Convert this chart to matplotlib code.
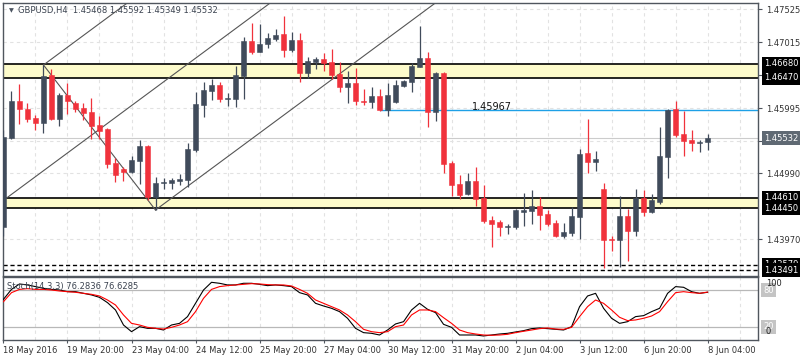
import matplotlib
matplotlib.use('Agg')
import matplotlib.pyplot as plt
from matplotlib.transforms import offset_copy

symbol = 'GBPUSD,H4'

# H4 candles, 18 May 12:00 .. 8 Jun 04:00
opens = [1.44155, 1.45540, 1.46108, 1.45979, 1.45845, 1.45772, 1.46514, 1.45829, 1.46200, 1.46077,
         1.45999, 1.45942, 1.45737, 1.45670, 1.45154, 1.45056, 1.45010, 1.45185, 1.45416, 1.44628,
         1.44835, 1.44835, 1.44875, 1.44886, 1.45350, 1.46046, 1.46267, 1.46355, 1.46143, 1.46143,
         1.46494, 1.47035, 1.46865, 1.46984, 1.47066, 1.47148, 1.46896, 1.47051, 1.46545, 1.46715,
         1.46757, 1.46715, 1.46525, 1.46328, 1.46391, 1.46112, 1.46097, 1.46185, 1.45968, 1.46097,
         1.46344, 1.46406, 1.46638, 1.46777, 1.45942, 1.46545, 1.45154, 1.44824, 1.44670, 1.44871,
         1.44603, 1.44268, 1.44232, 1.44155, 1.44155, 1.44396, 1.44412, 1.44484, 1.44361, 1.44217,
         1.44020, 1.44071, 1.44319, 1.45299, 1.45169, 1.44742, 1.43974, 1.43958, 1.44330, 1.44102,
         1.44603, 1.44396, 1.44551, 1.45246, 1.45979, 1.45597, 1.45505, 1.45453, 1.45468]
highs = [1.45659, 1.46262, 1.46375, 1.46081, 1.45887, 1.46664, 1.46598, 1.46236, 1.46391, 1.46108,
         1.46081, 1.46154, 1.45876, 1.45686, 1.45222, 1.45092, 1.45262, 1.45505, 1.45427, 1.44937,
         1.44913, 1.44922, 1.44979, 1.45463, 1.46251, 1.46406, 1.46443, 1.46406, 1.46227, 1.46653,
         1.47102, 1.47318, 1.47293, 1.47154, 1.47221, 1.47426, 1.47179, 1.47164, 1.46783, 1.46792,
         1.46854, 1.46911, 1.46715, 1.46571, 1.46622, 1.46293, 1.46319, 1.46293, 1.46381, 1.46432,
         1.46432, 1.46690, 1.47267, 1.46870, 1.46560, 1.46560, 1.45180, 1.44964, 1.44990, 1.45092,
         1.44809, 1.44330, 1.44268, 1.44201, 1.44438, 1.44690, 1.44732, 1.44619, 1.44422, 1.44268,
         1.44217, 1.44473, 1.45361, 1.45829, 1.45334, 1.44835, 1.44025, 1.44639, 1.44438, 1.44747,
         1.44732, 1.44665, 1.45710, 1.45979, 1.46112, 1.45953, 1.45659, 1.45505, 1.45592]
lows = [1.44020, 1.45515, 1.45747, 1.45783, 1.45659, 1.45618, 1.45814, 1.45721, 1.45907, 1.45938,
        1.45814, 1.45520, 1.45525, 1.45067, 1.44860, 1.44871, 1.44999, 1.44824, 1.44577, 1.44422,
        1.44742, 1.44742, 1.44809, 1.44783, 1.45324, 1.45865, 1.46123, 1.46097, 1.46030, 1.46019,
        1.46134, 1.46834, 1.46860, 1.46932, 1.47040, 1.46783, 1.46870, 1.46406, 1.46458, 1.46602,
        1.46576, 1.46443, 1.46251, 1.46081, 1.46046, 1.46046, 1.46004, 1.45958, 1.45880, 1.46081,
        1.46328, 1.46251, 1.46638, 1.45701, 1.45803, 1.44999, 1.44644, 1.44592, 1.44654, 1.44484,
        1.44226, 1.43855, 1.44020, 1.44051, 1.44129, 1.44175, 1.44206, 1.44113, 1.44180, 1.44000,
        1.43989, 1.44025, 1.43974, 1.44999, 1.45030, 1.43521, 1.43793, 1.43536, 1.43638, 1.44025,
        1.44334, 1.44381, 1.44515, 1.44922, 1.45556, 1.45262, 1.45334, 1.45324, 1.45349]
closes = [1.45556, 1.46108, 1.45984, 1.45829, 1.45772, 1.46494, 1.45825, 1.46200, 1.46108, 1.45984,
          1.45927, 1.45721, 1.45648, 1.45134, 1.44964, 1.45015, 1.45195, 1.45416, 1.44619, 1.44845,
          1.44851, 1.44886, 1.44902, 1.45366, 1.46061, 1.46278, 1.46355, 1.46138, 1.46159, 1.46510,
          1.47040, 1.46860, 1.46989, 1.47086, 1.47133, 1.46896, 1.47051, 1.46545, 1.46726, 1.46757,
          1.46690, 1.46510, 1.46328, 1.46391, 1.46112, 1.46097, 1.46185, 1.45968, 1.46200, 1.46355,
          1.46417, 1.46649, 1.46777, 1.45942, 1.46545, 1.45134, 1.44809, 1.44654, 1.44871, 1.44592,
          1.44252, 1.44210, 1.44155, 1.44175, 1.44422, 1.44422, 1.44484, 1.44345, 1.44206, 1.44020,
          1.44077, 1.44330, 1.45288, 1.45169, 1.45211, 1.43958, 1.43958, 1.44330, 1.44102, 1.44603,
          1.44396, 1.44577, 1.45257, 1.45968, 1.45582, 1.45489, 1.45453, 1.45478, 1.45532]

# Stochastic(14,3,3)
stoch_k = [64.9, 81, 89.8, 88.2, 85.5, 82.7, 81, 80, 77.3, 77.3,
           74.6, 72, 68.1, 59.5, 47.6, 23.2, 12.4, 20.5, 17.8, 17.8,
           15.1, 23.2, 25.9, 36.8, 58.4, 80, 92.5, 90.9, 88.2, 88.2,
           90.9, 90.9, 89.2, 87.1, 88.2, 87.1, 85.5, 75.7, 72, 58.4,
           54.1, 50.3, 44.9, 34.1, 17.8, 10.8, 9.7, 7, 15.1, 24.9,
           28.6, 47.6, 58.4, 48.7, 43.3, 24.3, 19.4, 7, 7, 7,
           5.4, 7, 8.6, 9.7, 11.9, 14, 17.3, 18.4, 17.3, 16.2,
           15.1, 20.5, 53, 70.3, 74.6, 50.3, 34.1, 25.9, 28.6, 36.8,
           38.4, 44.9, 50.3, 74.6, 85.5, 84.4, 77.3, 74.6, 76.2836]
stoch_d = [61.1, 75.7, 81, 82.2, 81, 81, 80, 78.4, 77.3, 76.3,
           74.6, 73, 70.3, 63.8, 55.7, 39.5, 25.9, 23.2, 19.4, 17.8,
           16.7, 19.4, 23.2, 28.6, 44.9, 66.5, 81, 85.5, 87.1, 88.2,
           89.2, 90.3, 89.8, 88.7, 88.2, 88.2, 86.5, 81, 74.6, 63.8,
           58.4, 53, 47.6, 39.5, 28.6, 16.2, 12.4, 10.8, 12.4, 20.5,
           23.2, 39.5, 47.6, 47.6, 44.9, 35.1, 25.9, 15.1, 10.8, 8.6,
           7, 6.5, 7, 8.1, 10.8, 13, 15.1, 17.3, 18.4, 16.7,
           16.2, 19.4, 36.8, 53, 63.8, 58.4, 47.6, 35.7, 30.3, 31.4,
           34.1, 37.8, 44.9, 61.1, 75.7, 77.3, 75.7, 74.6, 76.6285]

date_labels = ['18 May 2016', '19 May 20:00', '23 May 04:00', '24 May 12:00', '25 May 20:00',
               '27 May 04:00', '30 May 12:00', '31 May 20:00', '2 Jun 04:00', '3 Jun 12:00',
               '6 Jun 20:00', '8 Jun 04:00']
price_ticks = [1.47525, 1.47015, 1.46505, 1.45995, 1.45485, 1.44990, 1.43970]
price_tick_labels = ['1.47525', '1.47015', '', '1.45995', '', '1.44990', '1.43970']

upper_zone = [1.46470, 1.46680]
lower_zone = [1.44450, 1.44610]
dashed_levels = [1.43579, 1.43491]
level_price = 1.45967
level_start = 47
channel_mid = 1.44572       # middle channel line at bar 0
channel_slope = 0.000915    # price per bar
top_bar, bottom_bar = 5, 19

BULL = '#404b5b'
BEAR = '#f0323c'
GRID = '#e2e2e2'
FRAME = '#50565e'

fig = plt.figure(figsize=(8, 3.6), dpi=100)
ax = fig.add_axes([3 / 800, 1 - 276 / 360, 755 / 800, 273 / 360])
ax2 = fig.add_axes([3 / 800, 1 - 339.5 / 360, 755 / 800, 62.5 / 360])

n = len(opens)
xs = list(range(n))
xmax = 94.3

# ---- main price panel ----
for x in range(4, 95, 4):
    ax.axvline(x, color=GRID, ls=(0, (3, 3)), lw=0.8, zorder=0)
for p in price_ticks:
    ax.axhline(p, color=GRID, ls=(0, (3, 3)), lw=0.8, zorder=0)

for lo, hi in [upper_zone, lower_zone]:
    ax.axhspan(lo, hi, color='#fdfbcb', zorder=0.5, lw=0)
    ax.axhline(lo, color='black', lw=1.2, zorder=1)
    ax.axhline(hi, color='black', lw=1.2, zorder=1)
for p in dashed_levels:
    ax.axhline(p, color='black', ls=(0, (3, 2)), lw=1, zorder=1)

ax.axhline(closes[-1], color='#cccccc', lw=0.8, zorder=0.6)
ax.hlines(level_price, level_start, xmax, color='#1ea0e6', lw=1, zorder=1)
ax.annotate('%.5f' % level_price, (58.5, level_price), xytext=(0, 2.5),
            textcoords='offset points', fontsize=7, color='#111111', va='center', zorder=4)

# channel lines
hi5 = highs[top_bar]
lo19 = lows[bottom_bar]
ax.plot([top_bar, bottom_bar], [hi5, lo19], color='#555555', lw=0.8, zorder=2)
ax.plot([top_bar, 40], [hi5, hi5 + channel_slope * (40 - top_bar)], color='#555555', lw=0.8, zorder=2)
ax.plot([-2, 60], [channel_mid - 2 * channel_slope, channel_mid + 60 * channel_slope],
        color='#555555', lw=0.8, zorder=2)
ax.plot([bottom_bar, 80], [lo19, lo19 + channel_slope * (80 - bottom_bar)], color='#555555', lw=0.8, zorder=2)

# candles
for i in xs:
    o, h, l, c = opens[i], highs[i], lows[i], closes[i]
    col = BULL if c >= o else BEAR
    ax.vlines(i, l, h, color=col, lw=0.9, zorder=3)
    ax.bar(i, max(abs(c - o), 0.00004), bottom=min(o, c), width=0.58, color=col,
           edgecolor=col, lw=0.4, zorder=3)

ax.set_xlim(-0.06, xmax)
ax.set_ylim(1.43402, 1.47622)
ax.set_xticks([])
ax.yaxis.tick_right()
ax.set_yticks(price_ticks)
ax.set_yticklabels(price_tick_labels)
ax.tick_params(axis='y', labelsize=6, length=3, color=FRAME, labelcolor='#333333', pad=3)
for s in ax.spines.values():
    s.set_color(FRAME)
    s.set_linewidth(1)

ax.text(0.008, 0.972, '\u25bc', transform=ax.transAxes, fontsize=4.5, color='#4a5360', va='center')
ax.text(0.0199, 0.972, '%s  %.5f %.5f %.5f %.5f' % (symbol, opens[-1], highs[-1], lows[-1], closes[-1]),
        transform=ax.transAxes, fontsize=6, color='#3b4350', va='center')

# right-hand price boxes
box_tr = offset_copy(ax.get_yaxis_transform(), fig=fig, x=6, y=0, units='dots')
for p in upper_zone[::-1] + lower_zone[::-1] + dashed_levels:
    ax.text(1.0, p, '%.5f' % p, transform=box_tr, fontsize=6, color='white', va='center', ha='left',
            clip_on=False, zorder=5,
            bbox=dict(boxstyle='square,pad=0.3', fc='black', ec='none'))
ax.text(1.0, closes[-1], '%.5f' % closes[-1], transform=box_tr, fontsize=6, color='white',
        va='center', ha='left', clip_on=False, zorder=5,
        bbox=dict(boxstyle='square,pad=0.3', fc='#5f6973', ec='none'))

# ---- stochastic panel ----
for x in range(4, 95, 4):
    ax2.axvline(x, color=GRID, ls=(0, (3, 3)), lw=0.8, zorder=0)
ax2.axhline(80, color='#b8b8b8', lw=0.9, zorder=1)
ax2.axhline(20, color='#b8b8b8', lw=0.9, zorder=1)
ax2.plot(xs, stoch_k, color='black', lw=0.8, zorder=3)
ax2.plot(xs, stoch_d, color='#ff0000', lw=0.8, zorder=3)
ax2.set_xlim(-0.06, xmax)
ax2.set_ylim(-0.32, 101.1)
ax2.set_yticks([])
ax2.set_xticks(list(range(0, n, 8)))
ax2.set_xticklabels(date_labels, ha='left')
ax2.tick_params(axis='x', labelsize=6, length=2.5, color=FRAME, labelcolor='#333333', pad=2)
for s in ax2.spines.values():
    s.set_color(FRAME)
    s.set_linewidth(1)

ax2.text(0.0053, 0.85, 'Stoch(14,3,3) %.4f %.4f' % (stoch_k[-1], stoch_d[-1]),
         transform=ax2.transAxes, fontsize=6, color='#3b4350', va='center')

st_tr = offset_copy(ax2.get_yaxis_transform(), fig=fig, x=5, y=0, units='dots')
for v in [80, 20]:
    ax2.text(1.0, v, str(v), transform=st_tr, fontsize=6, color='white', va='center', ha='left',
             clip_on=False, bbox=dict(boxstyle='square,pad=0.25', fc='#c4c4c4', ec='none'))
ax2.text(1.0, 0.888, '100', transform=offset_copy(ax2.transAxes, fig=fig, x=8, y=0, units='dots'),
         fontsize=6, color='#222222', va='center', ha='left', clip_on=False)
ax2.text(1.0, 0.12, '0', transform=offset_copy(ax2.transAxes, fig=fig, x=8, y=0, units='dots'),
         fontsize=6, color='#222222', va='center', ha='left', clip_on=False)

fig.savefig('out.png', dpi=100)
